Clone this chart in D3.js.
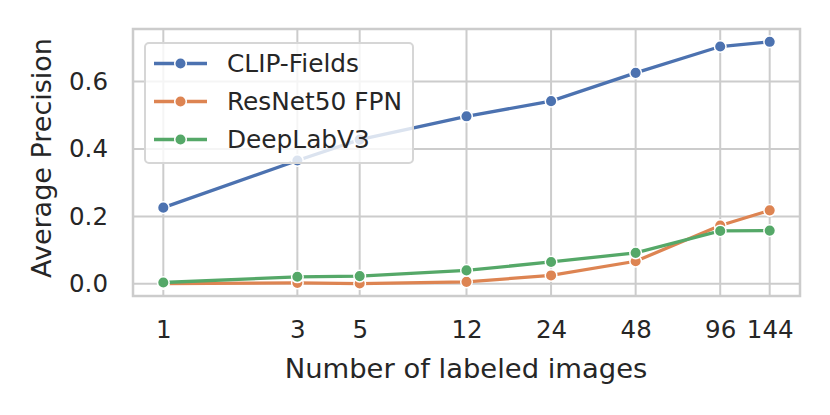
<!doctype html>
<html lang="en">
  <head>
    <meta charset="utf-8">
    <title>Average Precision vs labeled images</title>
    <script src="https://d3js.org/d3.v7.min.js"></script>
    <style>
      body { margin: 0; background: #fff; }
      text { font-family: "DejaVu Sans", sans-serif; fill: #262626; }
    </style>
  </head>

  <body>
    <svg width="830" height="415"></svg>

    <script>
      var svg = d3.select('svg');

      // data
      var shots = [1, 3, 5, 12, 24, 48, 96, 144];
      var clipFields = [0.226, 0.366, 0.428, 0.497, 0.542, 0.626, 0.704, 0.718];
      var resnetFpn = [0.001, 0.003, 0.001, 0.006, 0.025, 0.067, 0.173, 0.218];
      var deepLab = [0.004, 0.021, 0.023, 0.040, 0.065, 0.092, 0.157, 0.158];
      var yTicks = [0.0, 0.2, 0.4, 0.6];

      var series = [
        { name: 'CLIP-Fields', values: clipFields, color: '#4c72b0' },
        { name: 'ResNet50 FPN', values: resnetFpn, color: '#dd8452' },
        { name: 'DeepLabV3', values: deepLab, color: '#55a868' }
      ];

      // plot box (note: "top" is taken by window.top)
      var plotL = 133, plotR = 800, plotT = 29, plotB = 296;

      // log x with matplotlib style 5% margins
      var lx = Math.log(shots[shots.length - 1]) - Math.log(shots[0]);
      var pad = lx * 0.05;
      var x = d3.scaleLog()
          .domain([shots[0] / Math.exp(pad), shots[shots.length - 1] * Math.exp(pad)])
          .range([plotL, plotR]);

      var y = d3.scaleLinear()
          .domain([-0.036, 0.756])
          .range([plotB, plotT]);

      // grid
      var grid = svg.append('g');
      grid.selectAll('.gx').data(shots).enter()
          .append('line')
          .attr('x1', function(d){ return x(d); })
          .attr('x2', function(d){ return x(d); })
          .attr('y1', plotT).attr('y2', plotB)
          .style('stroke', '#cccccc').style('stroke-width', 2);
      grid.selectAll('.gy').data(yTicks).enter()
          .append('line')
          .attr('y1', function(d){ return y(d); })
          .attr('y2', function(d){ return y(d); })
          .attr('x1', plotL).attr('x2', plotR)
          .style('stroke', '#cccccc').style('stroke-width', 2);

      // axes (labels only, no tick marks)
      var xAxis = svg.append('g')
          .attr('transform', 'translate(0,' + plotB + ')')
          .call(d3.axisBottom(x).tickValues(shots).tickFormat(d3.format('d')).tickSize(0).tickPadding(25));
      xAxis.select('.domain').remove();
      xAxis.selectAll('text').style('font-size', '24.5px').style('fill', '#262626');

      var yAxis = svg.append('g')
          .attr('transform', 'translate(' + plotL + ',0)')
          .call(d3.axisLeft(y).tickValues(yTicks).tickFormat(d3.format('.1f')).tickSize(0).tickPadding(25));
      yAxis.select('.domain').remove();
      yAxis.selectAll('text').style('font-size', '24.5px').style('fill', '#262626');

      // spines
      svg.append('rect')
          .attr('x', plotL).attr('y', plotT)
          .attr('width', plotR - plotL).attr('height', plotB - plotT)
          .style('fill', 'none').style('stroke', '#cccccc').style('stroke-width', 2.5);

      // lines + markers
      var line = d3.line()
          .x(function(d){ return x(d[0]); })
          .y(function(d){ return y(d[1]); });

      series.forEach(function(s){
        var pts = shots.map(function(v, i){ return [v, s.values[i]]; });
        var g = svg.append('g');
        g.append('path')
            .attr('d', line(pts))
            .style('fill', 'none')
            .style('stroke', s.color)
            .style('stroke-width', 3.3)
            .style('stroke-linecap', 'round');
        g.selectAll('circle').data(pts).enter()
            .append('circle')
            .attr('cx', function(d){ return x(d[0]); })
            .attr('cy', function(d){ return y(d[1]); })
            .attr('r', 5.8)
            .style('fill', s.color)
            .style('stroke', '#fff')
            .style('stroke-width', 1.5);
      });

      // axis titles
      svg.append('text')
          .attr('x', 466).attr('y', 377.5)
          .attr('text-anchor', 'middle')
          .style('font-size', '27.4px')
          .text('Number of labeled images');

      svg.append('text')
          .attr('transform', 'translate(50.5,158) rotate(-90)')
          .attr('text-anchor', 'middle')
          .style('font-size', '27px')
          .text('Average Precision');

      // legend
      var legend = svg.append('g');
      legend.append('rect')
          .attr('x', 145).attr('y', 43).attr('width', 268).attr('height', 120)
          .attr('rx', 4)
          .style('fill', 'rgba(255,255,255,0.8)')
          .style('stroke', '#d6d6d6').style('stroke-width', 2);

      var rows = legend.selectAll('.row').data(series).enter()
          .append('g')
          .attr('transform', function(d, i){ return 'translate(0,' + (63.5 + i * 38) + ')'; });
      rows.append('line')
          .attr('x1', 154).attr('x2', 207)
          .style('stroke', function(d){ return d.color; })
          .style('stroke-width', 3.3);
      rows.append('circle')
          .attr('cx', 180.5).attr('r', 5.8)
          .style('fill', function(d){ return d.color; })
          .style('stroke', '#fff').style('stroke-width', 1.5);
      rows.append('text')
          .attr('x', 227).attr('dy', '0.36em')
          .style('font-size', '24.8px')
          .text(function(d){ return d.name; });
    </script>
  </body>
</html>
